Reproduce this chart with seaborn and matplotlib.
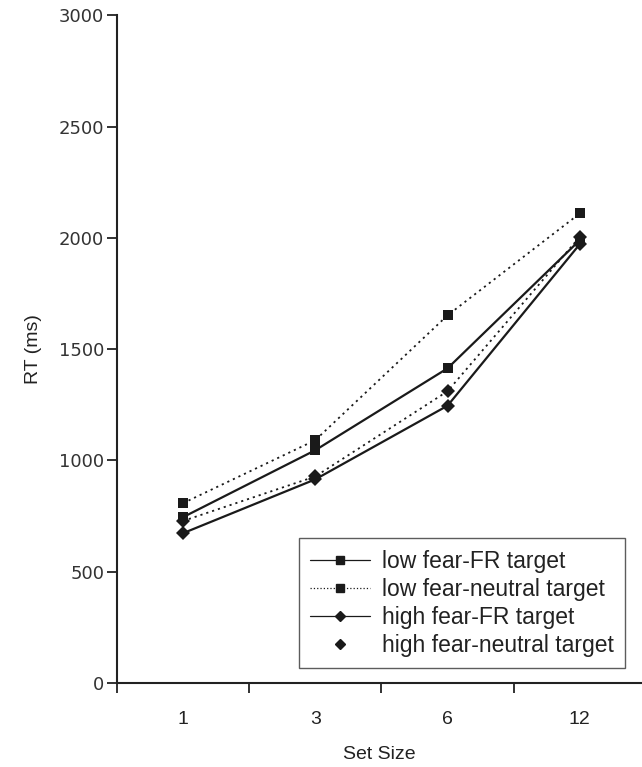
import pandas as pd
import seaborn as sns
import matplotlib.pyplot as plt
from matplotlib.lines import Line2D
from matplotlib.ticker import FixedLocator

# Data
set_sizes = ["1", "3", "6", "12"]
low_fr = [745, 1046, 1414, 1990]
low_neutral = [808, 1091, 1652, 2110]
high_fr = [673, 915, 1246, 1972]
high_neutral = [728, 928, 1311, 2005]
series_names = ["low fear-FR target", "low fear-neutral target",
                "high fear-FR target", "high fear-neutral target"]
y_ticks = [0, 500, 1000, 1500, 2000, 2500, 3000]

sns.set_style("white")
plt.rcParams["font.family"] = ["Liberation Sans", "DejaVu Sans"]

fig = plt.figure(figsize=(6.42, 7.67), dpi=100)
ax = fig.add_axes([0.182, 0.1095, 0.818, 0.8705])

styles = {
    "low fear-FR target": dict(values=low_fr, marker="s", ls="-", lw=1.6, ms=7),
    "low fear-neutral target": dict(values=low_neutral, marker="s", ls=(0, (1.2, 2.2)), lw=1.3, ms=7),
    "high fear-FR target": dict(values=high_fr, marker="D", ls="-", lw=1.6, ms=7),
    "high fear-neutral target": dict(values=high_neutral, marker="D", ls=(0, (1.2, 2.2)), lw=1.3, ms=7),
}

for name in ["high fear-neutral target", "low fear-neutral target",
             "high fear-FR target", "low fear-FR target"]:
    st = styles[name]
    df = pd.DataFrame({"Set Size": set_sizes, "RT": st["values"]})
    sns.lineplot(data=df, x="Set Size", y="RT", ax=ax, color="#1a1a1a",
                 marker=st["marker"], markersize=st["ms"], markeredgewidth=0,
                 linestyle=st["ls"], linewidth=st["lw"], sort=False)

ax.set_xlim(-0.5, 3.47)
ax.set_ylim(0, 3000)
ax.set_yticks(y_ticks)
ax.set_yticklabels([str(v) for v in y_ticks], fontsize=13, color="#333333",
                   family=["DejaVu Sans"])
ax.set_xticks(range(len(set_sizes)))
ax.set_xticklabels(set_sizes, fontsize=14, color="#222222")
ax.xaxis.set_minor_locator(FixedLocator([-0.5, 0.5, 1.5, 2.5]))
ax.tick_params(axis="x", which="major", bottom=True, length=0, pad=20)
ax.tick_params(axis="x", which="minor", bottom=True, length=7, width=1.3,
               color="#222222", direction="out")
ax.tick_params(axis="y", which="major", left=True, length=7, width=1.3,
               color="#222222", direction="out", pad=2)
ax.tick_params(axis="y", which="minor", left=False)

ax.set_xlabel("Set Size", fontsize=14, color="#222222", labelpad=13)
ax.set_ylabel("RT (ms)", fontsize=14, color="#222222", labelpad=12)

for side in ["top", "right"]:
    ax.spines[side].set_visible(False)
for side in ["left", "bottom"]:
    ax.spines[side].set_linewidth(1.5)
    ax.spines[side].set_color("#222222")

handles = []
for name in series_names:
    st = styles[name]
    if name == "high fear-neutral target":
        h = Line2D([], [], color="#1a1a1a", marker=st["marker"], markersize=st["ms"] - 1.5,
                   linestyle="none")
    else:
        h = Line2D([], [], color="#1a1a1a", marker=st["marker"], markersize=st["ms"] - 1.5,
                   linestyle="-" if st["ls"] == "-" else ":", linewidth=0.9)
    handles.append(h)

leg = ax.legend(handles, series_names, loc="lower right", bbox_to_anchor=(0.968, 0.022),
                borderaxespad=0, fontsize=16.5, frameon=True, fancybox=False,
                handlelength=2.6, handletextpad=0.52, labelspacing=0.22, borderpad=0.5)
leg.get_frame().set_edgecolor("#333333")
leg.get_frame().set_linewidth(1.0)
for t in leg.get_texts():
    t.set_color("#222222")

fig.savefig("out.png", dpi=100)
